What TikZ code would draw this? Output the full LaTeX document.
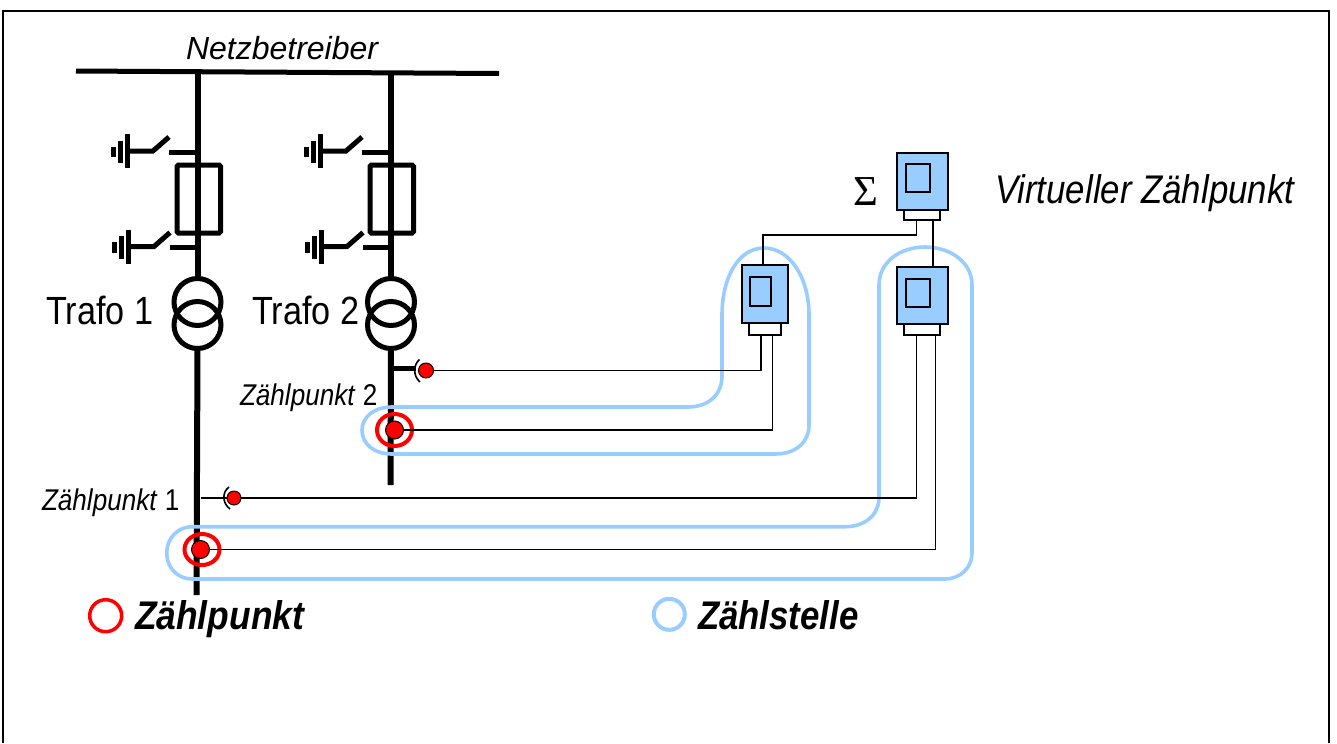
\documentclass[tikz,border=0pt]{standalone}
\usepackage{fontspec}
\usepackage{graphicx}
\setmainfont{Liberation Sans}
\newfontfamily\serifgreek{Liberation Serif}
\usetikzlibrary{shapes.geometric}
\definecolor{zblue}{HTML}{99CCFF}
\definecolor{zred}{HTML}{FF0000}
\tikzset{
  frameline/.style={draw=black,line width=2*0.75pt},
  busline/.style={draw=black,line width=5*0.75pt},
  feeder/.style={draw=black,line width=6*0.75pt},
  swline/.style={draw=black,line width=5*0.75pt},
  fusebox/.style={draw=black,line width=5*0.75pt,inner sep=0pt,outer sep=0pt,rounded corners=1pt},
  trafo/.style={circle,draw=black,line width=5*0.75pt,inner sep=0pt,outer sep=0pt,minimum size=47*0.75pt},
  wire/.style={draw=black,line width=1.6*0.75pt},
  meterbox/.style={draw=black,fill=zblue,line width=1.5*0.75pt,inner sep=0pt,outer sep=0pt},
  meterbase/.style={draw=black,fill=white,line width=1.5*0.75pt,inner sep=0pt,outer sep=0pt},
  loopline/.style={draw=zblue,line width=3.6*0.75pt},
  reddot/.style={circle,draw=black,fill=zred,line width=1*0.75pt,inner sep=0pt,outer sep=0pt},
  ringr/.style={ellipse,draw=zred,line width=4*0.75pt,inner sep=0pt,outer sep=0pt},
  lab/.style={anchor=base west,inner sep=0pt,outer sep=0pt,text=black},
}
\newcommand{\pxbox}[6]{\node[#2,minimum width={(#5-#3)*0.75pt},minimum height={(#6-#4)*0.75pt}] (#1) at ({(#3+#5)/2},{(#4+#6)/2}) {};}
\newcommand{\narrow}[1]{\scalebox{0.87}[1]{#1}}
\newcommand{\narrowb}[1]{\scalebox{0.885}[1]{#1}}
\newcommand{\earthsw}[2]{%
  \begin{scope}[shift={(#1,#2)}]
    \draw[swline] (0,-4.5) -- (0,6);
    \draw[swline] (7,-10.5) -- (7,12);
    \draw[swline] (14,-17) -- (14,17);
    \draw[swline] (14,0) -- (40,0) -- (56,-14);
    \draw[swline] (56,1) -- (84,1);
  \end{scope}}
\begin{document}
\begin{tikzpicture}[x=0.75pt,y=-0.75pt]
\useasboundingbox (0,0) rectangle (1337,743);
% frame
\coordinate (fbl) at (3,743);
\coordinate (ftl) at (3,10.5);
\coordinate (ftr) at (1328.5,10.5);
\coordinate (fbr) at (1328.5,743);
\draw[frameline] (fbl) -- (ftl) -- (ftr) -- (fbr);
% bus
\coordinate (busl) at (76,71);
\coordinate (busr) at (499,73.5);
\draw[busline] (busl) -- (busr);
\node[lab,font=\fontsize{24pt}{24pt}\selectfont\itshape] (netz) at (186,59) {Netzbetreiber};
% transformers
\node[trafo] (t1a) at (197.5,302) {};
\node[trafo] (t1b) at (197.5,325) {};
\node[trafo] (t2a) at (391,302) {};
\node[trafo] (t2b) at (391,325) {};
% feeders
\coordinate (f1top) at (197.5,72);
\coordinate (f2top) at (391,72);
\coordinate (f1bot) at (196.5,595);
\coordinate (f2bot) at (390.5,485);
\draw[feeder] (f1top) -- (t1a.north);
\draw[feeder] (f2top) -- (t2a.north);
\draw[feeder] (t1b.south) -- (f1bot);
\draw[feeder] (t2b.south) -- (f2bot);
% fuses
\pxbox{fuse1}{fusebox}{177}{165}{220.5}{233}
\pxbox{fuse2}{fusebox}{370}{165}{413.5}{233}
% earthing switches
\earthsw{113}{151}
\earthsw{114}{246.5}
\earthsw{306}{151}
\earthsw{307}{246.5}
% labels
\node[lab,font=\fontsize{29.5pt}{30pt}\selectfont] (tl1) at (46,324) {\narrow{Trafo 1}};
\node[lab,font=\fontsize{29.5pt}{30pt}\selectfont] (tl2) at (252,324) {\narrow{Trafo 2}};
\node[lab,font=\fontsize{22.5pt}{24pt}\selectfont] (zp2) at (240,405) {\narrow{\textit{Zählpunkt} 2}};
\node[lab,font=\fontsize{22.5pt}{24pt}\selectfont] (zp1) at (42,510) {\narrow{\textit{Zählpunkt} 1}};
\node[lab,font=\fontsize{30pt}{30pt}\selectfont\bfseries\itshape] (legz) at (135,629) {\narrowb{Zählpunkt}};
\node[lab,font=\fontsize{30pt}{30pt}\selectfont\bfseries\itshape] (legs) at (698,629) {\narrow{Zählstelle}};
\node[lab,font=\fontsize{30pt}{30pt}\selectfont\itshape] (virt) at (995,203) {\narrow{Virtueller Zählpunkt}};
\node[lab,font=\fontsize{32pt}{32pt}\serifgreek] (sig) at (853,205) {Σ};
% legend circles
\node[circle,draw=zred,line width=3.5*0.75pt,inner sep=0pt,minimum size=32*0.75pt] (cr) at (105.7,615.7) {};
\node[circle,draw=zblue,line width=4*0.75pt,inner sep=0pt,minimum size=31*0.75pt] (cb) at (669.3,614.3) {};
% Zählstelle loops
\draw[loopline] (392,407) -- (688,407)
  .. controls (708,407) and (722,395) .. (722,376) -- (722,315)
  .. controls (722,278) and (738,248) .. (764,248)
  .. controls (790,248) and (809,278) .. (809,315) -- (809,425)
  .. controls (809,442) and (796,454) .. (775,454) -- (392,454)
  .. controls (374,454) and (362,444) .. (362,430)
  .. controls (362,417) and (374,407) .. (392,407) -- cycle;
\draw[loopline] (192,526.7) -- (845,526.7)
  .. controls (865,526.7) and (879,515) .. (879,497) -- (879,285)
  .. controls (879,262) and (900,247) .. (925,247)
  .. controls (950,247) and (972,262) .. (972,285) -- (972,553)
  .. controls (972,568) and (960,579) .. (945,579) -- (192,579)
  .. controls (178,579) and (166.7,568) .. (166.7,553)
  .. controls (166.7,538) and (178,526.7) .. (192,526.7) -- cycle;
% meters
\pxbox{sumbody}{meterbox}{897}{153}{948}{210}
\pxbox{suminner}{meterbox}{906}{164}{930}{192}
\pxbox{sumbase}{meterbase}{904}{210}{940}{220}
\pxbox{rbody}{meterbox}{897}{267}{948}{324}
\pxbox{rinner}{meterbox}{906}{279}{930}{307}
\pxbox{rbase}{meterbase}{904}{324}{940}{335}
\pxbox{lbody}{meterbox}{742}{265}{788}{323}
\pxbox{linner}{meterbox}{750}{277}{771}{306}
\pxbox{lbase}{meterbase}{749}{323}{781}{335}
% measuring points
\node[reddot,minimum size=15*0.75pt] (vt2) at (426,370.5) {};
\node[reddot,minimum size=18*0.75pt] (ct2) at (394.5,430) {};
\node[reddot,minimum size=14*0.75pt] (vt1) at (234,498) {};
\node[reddot,minimum size=18*0.75pt] (ct1) at (200.5,549.5) {};
\node[ringr,minimum width=35*0.75pt,minimum height=32*0.75pt] (ring2) at (394.5,430) {};
\node[ringr,minimum width=35*0.75pt,minimum height=31*0.75pt] (ring1) at (202,549.5) {};
% coordinates for wires
\coordinate (sumlegA) at (916.5,220);
\coordinate (sumlegB) at (933,220);
\coordinate (rtopB) at (933,267);
\coordinate (ltop) at (763,266);
\coordinate (sumbend) at (763,235);
\coordinate (lleg1) at (761,335);
\coordinate (lleg2) at (772.5,335);
\coordinate (rleg1) at (916.5,335);
\coordinate (rleg2) at (935.5,335);
\coordinate (vt1stub) at (201,498);
\coordinate (vt2stub) at (393,368.5);
% wires
\draw[wire] (sumlegA) |- (sumbend) -- (ltop);
\draw[wire] (sumlegB) -- (rtopB);
\draw[wire] (vt2) -- (vt2 -| lleg1) -- (lleg1);
\draw[wire] (ct2) -- (ct2 -| lleg2) -- (lleg2);
\draw[wire] (vt1) -- (vt1 -| rleg1) -- (rleg1);
\draw[wire] (ct1) -- (ct1 -| rleg2) -- (rleg2);
\draw[wire] (vt1stub) -- (vt1);
% stubs and clamp arcs
\draw[busline] (vt2stub) -- (416,368.5);
\draw[wire] (419.5,359.5) .. controls (413,365) and (413,376) .. (420,382);
\draw[wire] (229,487) .. controls (222,492) and (222,503) .. (230,509);
\end{tikzpicture}
\end{document}
